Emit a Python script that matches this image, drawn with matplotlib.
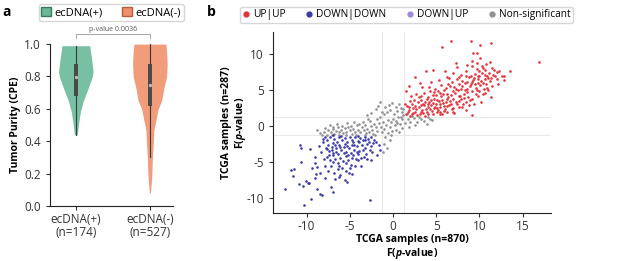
import matplotlib
matplotlib.use("Agg")
import matplotlib.pyplot as plt
from matplotlib.patches import Patch
from matplotlib.lines import Line2D

plt.rcParams['font.family'] = ['Open Sans', 'DejaVu Sans']
plt.rcParams['mathtext.fontset'] = 'custom'
plt.rcParams['mathtext.it'] = 'Open Sans:italic:bold'
plt.rcParams['mathtext.rm'] = 'Open Sans:bold'
plt.rcParams['axes.unicode_minus'] = False

# ---- panel a: violin outlines (value, half width in px)
groups = ['ecDNA(+)\n(n=174)', 'ecDNA(-)\n(n=527)']
pos_y = [0.44, 0.47, 0.52, 0.58, 0.65, 0.73, 0.80, 0.83, 0.87, 0.92, 0.96, 0.99]
pos_w = [1.5, 2, 3, 4.5, 7.5, 12.5, 16.5, 17.3, 16.5, 15.5, 14.5, 14]
neg_y = [0.08, 0.15, 0.20, 0.30, 0.40, 0.47, 0.53, 0.60, 0.65, 0.73, 0.80, 0.88, 0.94, 1.0]
neg_w = [0.5, 1.5, 2, 2.5, 3.5, 4, 6, 8.3, 11.7, 14, 16.7, 17.3, 16.8, 16]
q1 = [0.68, 0.62]
med = [0.795, 0.75]
q3 = [0.88, 0.88]
wlo = [0.44, 0.30]
whi = [0.99, 1.0]
pval = 'p-value 0.0036'

# ---- panel b: points
up_x = [1.5, 1.8, 2.0, 2.2, 1.6, 2.5, 2.8, 3.0, 2.4, 3.2, 3.5, 3.3, 3.8, 4.0, 3.6, 4.2, 4.5, 4.1, 4.4, 4.8,
        5.0, 4.7, 5.2, 5.5, 5.3, 5.8, 6.0, 5.6, 6.2, 6.5, 4.3, 4.9, 5.4, 5.9, 6.3, 6.6, 7.0, 7.2, 6.8, 7.5,
        7.8, 8.0, 7.4, 8.3, 8.6, 8.8, 9.0, 9.3, 9.5, 9.8, 10.0, 10.3, 10.6, 10.9, 11.2, 11.5, 10.4, 9.7, 10.8, 11.0,
        1.5, 2.1, 1.4, 16.9, 6.7, 5.7, 9.0, 9.3, 9.7, 10.1, 11.3, 13.5, 12.8, 12.3, 12.8, 12.0, 2.5, 3.8, 4.6, 3.1,
        1.9, 9.1, 7.3, 7.4, 9.7, 11.2, 2.7, 3.4, 2.9, 3.1, 3.7, 4.6, 5.1, 5.7, 6.3, 6.8, 7.1, 7.6, 8.1, 8.4,
        8.9, 9.4, 9.9, 10.2, 10.7, 11.4, 8.2, 8.7, 9.2, 9.6, 10.1, 10.5, 11.8, 12.2, 7.9, 8.5, 9.1, 6.2, 5.3, 4.4,
        6.0, 7.0, 3.9, 4.6, 5.1, 5.5, 5.9, 6.1, 6.4, 6.9, 7.3, 7.7, 8.0, 8.4, 9.0, 9.4, 10.0, 10.6, 11.1, 11.7,
        2.3, 2.6, 3.4, 4.0, 4.9, 5.4, 5.7, 6.6, 7.9, 8.6, 9.5, 10.2, 10.8, 12.6, 1.7, 2.0, 3.0, 3.6, 4.2, 5.0,
        5.6, 6.4, 7.1, 7.6, 8.3, 8.9, 9.9, 10.4, 11.0, 9.2, 10.1, 8.6,
        2.3, 2.7, 3.3, 3.9, 4.3, 4.6, 5.1, 5.4, 5.9, 6.2, 6.7, 7.0, 7.4, 7.7, 8.0, 8.5, 8.8, 9.2, 9.6, 10.0,
        10.4, 10.9, 11.3, 11.6, 12.1, 3.2, 3.7, 4.1, 4.7, 5.2, 5.8, 6.1, 6.7, 7.3, 7.9, 8.6, 9.1, 9.8, 10.6, 10.3,
        1.9, 2.2, 3.5, 4.4, 6.9, 8.2, 9.7, 11.5, 6.5, 7.7]
up_y = [1.6, 2.2, 1.4, 3.0, 2.8, 2.0, 1.5, 2.6, 3.6, 1.9, 3.1, 4.2, 2.3, 1.7, 2.9, 3.4, 2.1, 2.6, 2.9, 2.5,
        3.0, 3.8, 2.2, 2.7, 3.5, 3.2, 2.4, 4.1, 3.7, 2.9, 4.8, 5.2, 4.6, 5.0, 4.4, 5.5, 3.8, 4.6, 6.1, 5.0,
        4.2, 5.6, 6.5, 6.0, 5.2, 6.8, 5.8, 6.4, 7.2, 6.0, 6.9, 7.4, 6.5, 7.0, 6.2, 5.6, 8.0, 7.9, 8.6, 5.0,
        4.9, 4.1, 3.1, 8.9, 11.85, 11.0, 11.85, 10.2, 10.2, 11.3, 11.5, 7.7, 7.0, 7.6, 6.4, 7.5, 6.8, 7.7, 7.8, 6.0,
        5.5, 1.5, 8.7, 8.2, 8.7, 8.9, 4.5, 5.4, 3.3, 1.6, 1.4, 1.6, 1.9, 1.6, 1.9, 2.3, 1.8, 2.7, 3.1, 2.2,
        3.6, 3.0, 4.1, 3.4, 4.6, 4.0, 4.5, 4.0, 4.8, 5.3, 5.7, 5.1, 6.9, 5.8, 7.1, 7.6, 8.3, 6.8, 6.4, 6.1,
        7.6, 7.3, 3.8, 4.3, 3.6, 2.0, 2.8, 3.3, 4.0, 4.9, 3.4, 5.8, 6.3, 6.9, 7.0, 6.7, 7.6, 7.8, 7.3, 7.8,
        2.5, 2.8, 2.2, 3.0, 2.7, 3.1, 3.6, 3.5, 3.7, 4.7, 5.9, 6.3, 5.9, 6.9, 1.9, 3.5, 4.0, 4.6, 5.4, 4.3,
        5.7, 5.9, 5.4, 4.1, 5.0, 5.5, 6.5, 6.0, 6.7, 9.0, 9.4, 8.5,
        1.8, 2.3, 2.9, 1.9, 2.3, 3.2, 2.5, 1.7, 2.1, 2.8, 3.1, 2.5, 3.0, 3.5, 2.6, 3.4, 2.9, 3.8, 4.4, 4.9,
        4.4, 5.3, 6.6, 7.1, 6.5, 3.6, 3.3, 4.0, 4.7, 4.9, 4.4, 5.3, 4.3, 5.1, 5.2, 6.1, 6.1, 7.0, 7.1, 8.4,
        2.6, 1.6, 1.8, 3.6, 2.0, 3.9, 5.0, 8.0, 6.6, 6.8]

down_x = [-12.5, -10.3, -2.7, -11.8, -11.5, -11.6, -10.9, -10.8, -10.6, -10.6, -10.1, -9.9, -9.6, -9.5, -9.0, -9.0, -8.8, -8.8, -8.4, -8.2,
          -9.0, -8.6, -8.1, -6.1, -7.2, -6.75, -5.6, -4.7, -3.4, -2.7, -2.3, -1.5,
          -7.9, -7.6, -7.3, -7.0, -6.8, -6.5, -6.2, -5.9, -5.6, -5.3, -5.0, -4.7, -4.4, -4.1, -3.8, -3.5, -3.2, -2.9, -2.6, -2.2,
          -7.8, -7.4, -7.1, -6.9, -6.6, -6.3, -6.0, -5.7, -5.4, -5.1, -4.8, -4.5, -4.2, -3.9, -3.6, -3.3, -3.0, -2.8, -2.5, -2.0,
          -7.7, -7.3, -7.0, -6.7, -6.4, -6.1, -5.8, -5.5, -5.2, -4.9, -4.6, -4.3, -4.0, -3.7, -7.9, -7.5, -7.2, -6.8, -6.4, -5.9,
          -5.4, -5.0, -4.4, -8.3, -8.0, -8.4, -6.3, -5.3, -7.9, -3.1, -2.6, -1.9, -1.6, -2.4, -3.2, -4.0, -6.0, -6.9, -5.6, -4.6,
          -3.7, -6.6, -7.5, -5.2, -4.1, -8.9, -9.4, -9.7, -10.4, -7.0,
          -7.6, -7.1, -6.7, -6.4, -6.1, -5.7, -5.3, -4.9, -4.5, -4.2, -3.9, -3.5, -6.9, -6.2, -5.5, -5.1, -4.8, -7.4, -8.1, -3.0]
down_y = [-8.7, -11.0, -10.3, -6.1, -6.0, -7.0, -8.1, -2.6, -3.1, -5.0, -7.6, -8.0, -3.2, -10.1, -7.3, -5.2, -5.7, -8.7, -9.4, -9.6,
          -4.3, -2.8, -2.3, -6.8, -8.5, -7.4, -7.5, -6.7, -4.3, -3.3, -2.4, -3.3,
          -1.6, -2.0, -1.5, -2.4, -1.8, -2.2, -1.5, -2.0, -1.7, -2.3, -1.5, -1.9, -1.6, -2.1, -1.7, -2.0, -1.5, -1.8, -1.6, -1.9,
          -3.0, -3.5, -2.9, -3.8, -3.1, -2.7, -3.4, -2.9, -3.6, -3.0, -2.6, -3.3, -2.8, -3.5, -2.6, -3.0, -2.5, -2.2, -2.8, -2.3,
          -4.3, -4.8, -4.1, -4.6, -5.2, -4.4, -4.9, -4.2, -4.7, -5.4, -4.1, -4.6, -3.9, -4.5, -5.6, -6.2, -5.5, -6.6, -6.0, -5.8,
          -6.3, -5.9, -5.5, -3.6, -4.6, -6.5, -7.1, -7.8, -7.3, -3.9, -4.8, -4.1, -2.7, -3.6, -2.0, -1.4, -1.4, -1.3, -2.5, -2.3,
          -5.6, -3.6, -2.6, -4.0, -4.8, -6.7, -5.9, -7.9, -8.3, -9.2,
          -3.2, -3.4, -2.6, -3.9, -2.9, -3.7, -2.8, -3.7, -2.7, -3.6, -2.3, -3.3, -5.0, -5.5, -5.2, -6.6, -4.4, -4.0, -1.8, -4.6]

ns_x = [-8.4, -8.0, -7.7, -7.5, -7.2, -7.0, -6.8, -6.6, -6.4, -6.2, -6.0, -5.8, -5.6, -5.4, -5.2, -5.0, -4.8, -4.6, -4.4, -4.2,
        -4.0, -3.8, -3.6, -3.4, -3.2, -3.0, -2.8, -2.6, -2.4, -2.2, -2.0, -1.8, -1.6, -1.4, -1.2, -1.0, -0.8, -0.6, -0.4, -0.2,
        0.0, 0.2, 0.4, 0.6, 0.8, 1.0, 1.2, 1.4, 1.7, 2.0, 2.4, 2.8, 3.2, 3.6, 4.0, 4.5, -7.9, -7.3, -6.9, -6.5,
        -5.9, -5.3, -4.9, -4.5, -3.9, -3.5, -3.1, -2.7, -2.3, -1.9, -1.5, -1.1, -0.7, -0.3, 0.1, 0.5, 0.9, 1.1, -0.9, -0.5,
        0.3, 0.7, -1.5, -2.0, -2.5, -3.0, -1.3, -1.7, -0.1, 1.2, -0.6, -0.9, -0.4, -1.1, -0.7, -1.2, -0.2, 0.3, 0.7, 1.1,
        -8.8, -8.2, -7.1, -6.3, -5.5, -4.3, -3.3, -2.1, -1.3, -0.1, 0.5, 0.9, 1.6, 2.2, 3.0, 3.9, 4.3, 2.6, 1.9, -2.9]
ns_y = [-1.0, -0.8, -1.2, -0.6, -0.9, -0.4, -1.1, -0.7, -0.2, -0.9, -0.5, -1.0, -0.3, -0.8, -0.1, -0.6, -1.1, -0.4, -0.8, 0.1,
        -0.5, -0.9, -0.2, -0.6, 0.2, -0.4, -0.8, 0.0, -0.5, 0.3, -0.2, -0.7, 0.4, -0.1, 0.6, -0.4, 0.2, 0.8, -0.2, 0.5,
        1.0, 0.1, 0.7, 1.2, 0.3, 0.9, 1.5, 0.4, 0.9, 0.6, 1.1, 0.5, 0.9, 0.7, 1.2, 0.8, -0.3, 0.1, -0.1, 0.3,
        0.0, 0.4, 0.0, 0.5, 0.3, 0.6, -1.0, 0.7, -1.1, 0.9, 1.2, 1.6, 1.9, 2.2, 1.7, 2.1, 2.5, 1.9, 2.6, 2.9,
        2.7, 3.0, 3.4, 2.4, 1.8, 1.5, 2.0, 2.8, 3.2, 2.3, -1.0, -1.6, -2.0, -2.5, -3.0, -3.6, -1.3, -0.5, -0.9, -0.3,
        -0.6, -1.3, -1.3, -1.2, -1.3, -1.2, -1.3, -1.2, -0.9, -0.7, 0.4, 1.3, 1.7, 1.4, 1.2, 0.3, 1.0, 0.2, -0.2, 1.0]

cut = 1.3
green = '#68b999'
orange = '#f0916d'
c_up, c_down, c_mixed, c_ns = '#e03238', '#3a3aa8', '#a08ad8', '#909090'

fig = plt.figure(figsize=(6.24, 2.61), dpi=100)

# ================= panel a =================
ax1 = fig.add_axes([0.080, 0.211, 0.197, 0.620])
px_per_unit = 74.0
for i, (vy, vw, col) in enumerate([(pos_y, pos_w, green), (neg_y, neg_w, orange)]):
    half = [w / px_per_unit for w in vw]
    ax1.fill_betweenx(vy, [i - h for h in half], [i + h for h in half],
                      color=col, alpha=0.9, lw=0, clip_on=False)
    ax1.plot([i, i], [wlo[i], whi[i]], color='#3a3a3a', lw=0.8, clip_on=False)
    ax1.bar(i, q3[i] - q1[i], bottom=q1[i], width=0.05, color='#4a4a4a', zorder=3)
    ax1.scatter([i], [med[i]], s=2, color='#bbbbbb', zorder=4)

ax1.set_xlim(-0.35, 1.31)
ax1.set_ylim(0, 1.0)
ax1.set_yticks([0.0, 0.2, 0.4, 0.6, 0.8, 1.0])
ax1.set_yticklabels(['0.0', '0.2', '0.4', '0.6', '0.8', '1.0'])
ax1.set_xticks([0, 1])
ax1.set_xticklabels(groups, linespacing=1.0)
ax1.spines[['top', 'right']].set_visible(False)
ax1.spines[['left', 'bottom']].set_color('#222222')
ax1.tick_params(labelsize=8.5, length=3, width=0.8, colors='#333333')
ax1.tick_params(axis='x', pad=2)
ax1.set_ylabel('Tumor Purity (CPE)', fontsize=7.5, fontweight='bold', labelpad=2)

# significance bracket
ax1.plot([0, 0, 1, 1], [1.04, 1.062, 1.062, 1.04], color='#999999', lw=0.6, clip_on=False)
ax1.text(0.5, 1.07, pval, ha='center', va='bottom', fontsize=5, color='#555555')

fig.legend(handles=[Patch(facecolor=green, edgecolor='#3c7a60', label='ecDNA(+)'),
                    Patch(facecolor=orange, edgecolor='#b0603e', label='ecDNA(-)')],
           loc='center', bbox_to_anchor=(0.178, 0.952), ncol=2, fontsize=8,
           handlelength=0.9, handleheight=0.9, handletextpad=0.3, columnspacing=1.7,
           borderpad=0.25, frameon=True, edgecolor='#cccccc', fancybox=True)

fig.text(0.004, 0.955, 'a', fontsize=10, fontweight='bold', va='center')

# ================= panel b =================
ax2 = fig.add_axes([0.4375, 0.184, 0.4455, 0.693])
for v in (-cut, cut):
    ax2.axvline(v, color='#e8e8e8', lw=0.8, zorder=0)
    ax2.axhline(v, color='#e8e8e8', lw=0.8, zorder=0)
ax2.scatter(ns_x, ns_y, s=3.5, color=c_ns, lw=0)
ax2.scatter(up_x, up_y, s=3.5, color=c_up, lw=0)
ax2.scatter(down_x, down_y, s=3.5, color=c_down, lw=0)

ax2.set_xlim(-13.9, 18.3)
ax2.set_ylim(-12.1, 13.05)
ax2.set_xticks([-10, -5, 0, 5, 10, 15])
ax2.set_yticks([-10, -5, 0, 5, 10])
ax2.spines[['top', 'right']].set_visible(False)
ax2.spines[['left', 'bottom']].set_color('#222222')
ax2.tick_params(labelsize=8.5, length=3, width=0.8, colors='#333333')
ax2.tick_params(axis='x', pad=2)
ax2.set_xlabel('TCGA samples (n=870)\nF($p$-value)', fontsize=7.5, fontweight='bold',
               labelpad=1, linespacing=1.1)
ax2.set_ylabel('TCGA samples (n=287)\nF($p$-value)', fontsize=7.5, fontweight='bold',
               linespacing=1.1)
ax2.yaxis.set_label_coords(-0.09, 0.5)

handles = [Line2D([], [], marker='o', ls='', color=c, markersize=3.5, label=l)
           for c, l in [(c_up, 'UP|UP'), (c_down, 'DOWN|DOWN'),
                        (c_mixed, 'DOWN|UP'), (c_ns, 'Non-significant')]]
fig.legend(handles=handles, loc='center', bbox_to_anchor=(0.651, 0.943), ncol=4, fontsize=7.3,
           handlelength=0.8, handletextpad=0.3, columnspacing=1.9, borderpad=0.25, frameon=True,
           edgecolor='#cccccc', fancybox=True)

fig.text(0.332, 0.955, 'b', fontsize=10, fontweight='bold', va='center')

fig.savefig('out.png', dpi=100)
